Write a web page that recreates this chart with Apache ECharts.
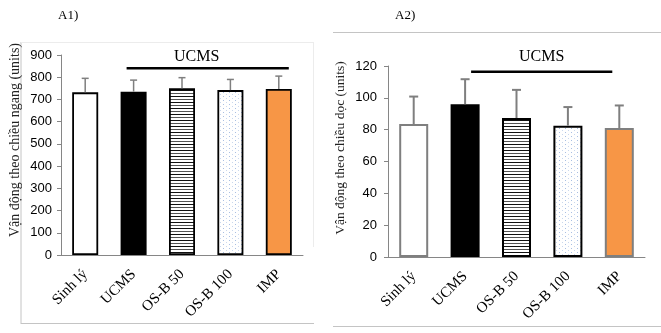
<!DOCTYPE html>
<html>
<head>
<meta charset="utf-8">
<script src="https://cdn.jsdelivr.net/npm/echarts@6/dist/echarts.min.js"></script>
<style>
html,body{margin:0;padding:0;background:#fff;}
#c{width:661px;height:333px;}
</style>
</head>
<body>
<div id="c"></div>
<script>
// ---- data ----
const categories = ['Sinh lý', 'UCMS', 'OS-B 50', 'OS-B 100', 'IMP'];
const horizMean = [732, 735, 750, 742, 747];
const horizSD = [63, 52, 48, 48, 58];
const vertMean = [83.5, 96, 87.3, 82.5, 81];
const vertSD = [17.3, 15.7, 17.7, 11.7, 14.2];
const horizTicks = [0, 900, 100];   // min, max, interval
const vertTicks = [0, 120, 20];
const bracketLabel = 'UCMS';
const bracketFromTo = [1, 4];       // categories covered by the UCMS bracket
const horizBracket = [840, 891];    // line level, label level (data units)
const vertBracket = [116.4, 125.7];
const panelLabels = ['A1)', 'A2)'];
const yTitles = ['Vận động theo chiều ngang (units)', 'Vận động theo chiều dọc (units)'];

// ---- patterns ----
function stripePattern() {
  const c = document.createElement('canvas'); c.width = 4; c.height = 6;
  const g = c.getContext('2d');
  g.fillStyle = '#fff'; g.fillRect(0, 0, 4, 6);
  g.fillStyle = '#111'; g.fillRect(0, 0, 4, 1);
  g.fillStyle = '#555'; g.fillRect(0, 3, 4, 1);
  return c;
}
function dotPattern() {
  const c = document.createElement('canvas'); c.width = 6; c.height = 4;
  const g = c.getContext('2d');
  g.fillStyle = '#fff'; g.fillRect(0, 0, 6, 4);
  g.fillStyle = '#a9bfe2'; g.fillRect(1, 0, 1, 1);
  g.fillStyle = '#cad8ee'; g.fillRect(4, 2, 1, 1);
  return c;
}
const stripes = { image: stripePattern(), repeat: 'repeat' };
const dots = { image: dotPattern(), repeat: 'repeat' };

const leftStyles = [
  { color: '#fff', borderColor: '#000', borderWidth: 1.8 },
  { color: '#000', borderColor: '#000', borderWidth: 1.8 },
  { color: stripes, borderColor: '#000', borderWidth: 1.8 },
  { color: dots, borderColor: '#000', borderWidth: 1.8 },
  { color: '#f79646', borderColor: '#000', borderWidth: 1.8 }
];
const rightStyles = [
  { color: '#fff', borderColor: '#7f7f7f', borderWidth: 2 },
  { color: '#000', borderColor: '#000', borderWidth: 2 },
  { color: stripes, borderColor: '#000', borderWidth: 2 },
  { color: dots, borderColor: '#000', borderWidth: 2 },
  { color: '#f79646', borderColor: '#7f7f7f', borderWidth: 2 }
];

const serif = 'Liberation Serif';
const sans = 'Liberation Sans';

function errorSeries(idx, means, sds, half, lw) {
  return {
    type: 'custom', xAxisIndex: idx, yAxisIndex: idx, z: 5, silent: true,
    data: means.map((m, i) => [i, m, sds[i]]),
    renderItem(params, api) {
      const x = api.value(0), m = api.value(1), s = api.value(2);
      const b = api.coord([x, m]);
      const t = api.coord([x, m + s]);
      const st = { stroke: '#7f7f7f', lineWidth: lw };
      return {
        type: 'group', children: [
          { type: 'line', shape: { x1: b[0], y1: b[1], x2: t[0], y2: t[1] }, style: st },
          { type: 'line', shape: { x1: t[0] - half, y1: t[1], x2: t[0] + half, y2: t[1] }, style: st }
        ]
      };
    }
  };
}

function bracketSeries(idx, levels, dStart, dEnd, labelDx, fontSize) {
  return {
    type: 'custom', xAxisIndex: idx, yAxisIndex: idx, z: 5, silent: true,
    data: [[bracketFromTo[0], bracketFromTo[1], levels[0], levels[1]]],
    renderItem(params, api) {
      const a = api.coord([api.value(0), api.value(2)]);
      const b = api.coord([api.value(1), api.value(2)]);
      const lab = api.coord([api.value(0), api.value(3)]);
      const x1 = a[0] + dStart, x2 = b[0] + dEnd;
      return {
        type: 'group', children: [
          { type: 'line', shape: { x1: x1, y1: a[1], x2: x2, y2: b[1] }, style: { stroke: '#000', lineWidth: 2.5 } },
          { type: 'text', x: (x1 + x2) / 2 + labelDx, y: lab[1],
            style: { text: bracketLabel, font: fontSize + 'px "' + serif + '"', fill: '#000', align: 'center', verticalAlign: 'middle' } }
        ]
      };
    }
  };
}

function xAxisCfg(idx) {
  return {
    type: 'category', gridIndex: idx, data: categories,
    axisLine: { lineStyle: { color: '#868686', width: 1 } },
    axisTick: { show: false },
    axisLabel: { rotate: 45, margin: 17, fontFamily: serif, fontSize: 15, color: '#000', interval: 0 }
  };
}
function yAxisCfg(idx, ticks, margin) {
  return {
    type: 'value', gridIndex: idx, min: ticks[0], max: ticks[1], interval: ticks[2],
    axisLine: { show: true, lineStyle: { color: '#868686', width: 1 } },
    axisTick: { show: true, length: 4, lineStyle: { color: '#868686' } },
    splitLine: { show: false },
    axisLabel: { margin: margin, fontFamily: sans, fontSize: 13, color: '#000' }
  };
}

const frame = '#c4c4c4';
const option = {
  animation: false,
  backgroundColor: '#fff',
  grid: [
    { left: 61, right: 358, top: 55, bottom: 78 },
    { left: 388, right: 16, top: 66, bottom: 76 }
  ],
  xAxis: [xAxisCfg(0), xAxisCfg(1)],
  yAxis: [yAxisCfg(0, horizTicks, 9), yAxisCfg(1, vertTicks, 11)],
  graphic: [
    // frames
    { type: 'line', shape: { x1: 21, y1: 42, x2: 21, y2: 324 }, style: { stroke: frame, lineWidth: 1 } },
    { type: 'line', shape: { x1: 21, y1: 323.5, x2: 314, y2: 323.5 }, style: { stroke: frame, lineWidth: 1 } },
    { type: 'line', shape: { x1: 21, y1: 42.5, x2: 313, y2: 42.5 }, style: { stroke: '#ececec', lineWidth: 1 } },
    { type: 'line', shape: { x1: 313.5, y1: 42, x2: 313.5, y2: 247 }, style: { stroke: '#ececec', lineWidth: 1 } },
    { type: 'line', shape: { x1: 333, y1: 32.5, x2: 661, y2: 32.5 }, style: { stroke: frame, lineWidth: 1 } },
    { type: 'line', shape: { x1: 333, y1: 326.5, x2: 661, y2: 326.5 }, style: { stroke: frame, lineWidth: 1 } },
    // panel labels
    { type: 'text', x: 58, y: 16, style: { text: panelLabels[0], font: '13px "' + serif + '"', fill: '#000', verticalAlign: 'middle' } },
    { type: 'text', x: 395, y: 16, style: { text: panelLabels[1], font: '13px "' + serif + '"', fill: '#000', verticalAlign: 'middle' } },
    // y titles
    { type: 'text', x: 15, y: 140, rotation: Math.PI / 2,
      style: { text: yTitles[0], font: '14px "' + serif + '"', fill: '#222', align: 'center', verticalAlign: 'middle' } },
    { type: 'text', x: 340, y: 148, rotation: Math.PI / 2,
      style: { text: yTitles[1], font: '13.5px "' + serif + '"', fill: '#222', align: 'center', verticalAlign: 'middle' } }
  ],
  series: [
    { type: 'bar', xAxisIndex: 0, yAxisIndex: 0, barWidth: 26, z: 2,
      data: horizMean.map((v, i) => ({ value: v, itemStyle: leftStyles[i] })) },
    { type: 'bar', xAxisIndex: 1, yAxisIndex: 1, barWidth: 29, z: 2,
      data: vertMean.map((v, i) => ({ value: v, itemStyle: rightStyles[i] })) },
    errorSeries(0, horizMean, horizSD, 3.5, 1.5),
    errorSeries(1, vertMean, vertSD, 4.5, 2),
    bracketSeries(0, horizBracket, -7, 10, -11, 16),
    bracketSeries(1, vertBracket, 6, -7, 0, 16)
  ]
};

const chart = echarts.init(document.getElementById('c'), null, { renderer: 'canvas' });
chart.setOption(option);
</script>
</body>
</html>
